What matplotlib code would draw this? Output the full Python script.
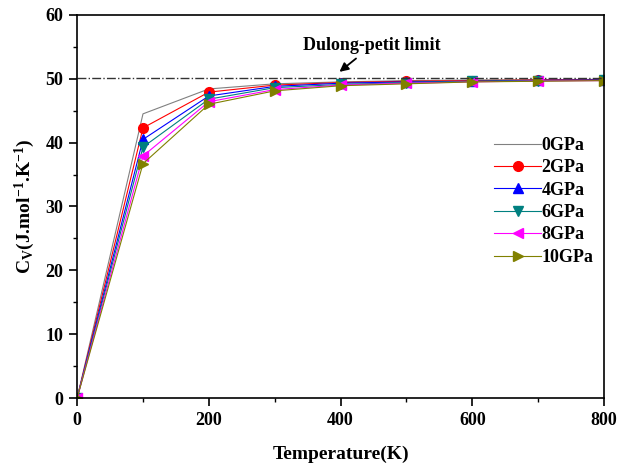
import matplotlib.pyplot as plt

plt.rcParams['font.family'] = ['Liberation Serif', 'DejaVu Serif']
plt.rcParams['font.weight'] = 'bold'
plt.rcParams['mathtext.fontset'] = 'custom'
plt.rcParams['mathtext.rm'] = 'Liberation Serif:bold'
plt.rcParams['mathtext.it'] = 'Liberation Serif:bold'
plt.rcParams['mathtext.bf'] = 'Liberation Serif:bold'

temps = [0, 100, 200, 300, 400, 500, 600, 700, 800]
cv_0 = [0, 44.5, 48.4, 49.2, 49.5, 49.7, 49.8, 49.85, 49.9]
cv_2 = [0, 42.3, 47.9, 49.0, 49.4, 49.6, 49.7, 49.8, 49.85]
cv_4 = [0, 40.5, 47.3, 48.8, 49.3, 49.5, 49.6, 49.75, 49.8]
cv_6 = [0, 39.3, 46.8, 48.6, 49.1, 49.4, 49.6, 49.7, 49.75]
cv_8 = [0, 37.9, 46.4, 48.3, 49.0, 49.3, 49.5, 49.65, 49.7]
cv_10 = [0, 36.7, 46.0, 48.1, 48.9, 49.2, 49.5, 49.6, 49.7]
labels = ['0GPa', '2GPa', '4GPa', '6GPa', '8GPa', '10GPa']
dulong_petit = 50.1

fig = plt.figure(figsize=(6.17, 4.63), dpi=100)
ax = fig.add_axes([0.125, 0.14, 0.854, 0.828])

ax.plot(temps, cv_0, color='gray', lw=0.8, label=labels[0])
ax.plot(temps, cv_2, color='red', lw=0.8, marker='o', ms=7, label=labels[1])
ax.plot(temps, cv_4, color='blue', lw=0.8, marker='^', ms=7, label=labels[2])
ax.plot(temps, cv_6, color='#008080', lw=0.8, marker='v', ms=7, label=labels[3])
ax.plot(temps, cv_8, color='magenta', lw=0.8, marker='<', ms=7, label=labels[4])
ax.plot(temps, cv_10, color='#808000', lw=0.8, marker='>', ms=7, label=labels[5])

ax.axhline(dulong_petit, color='#333333', lw=1.0, linestyle='-.')
ax.annotate('Dulong-petit limit', xy=(395, 50.8), xytext=(448, 55.2),
            ha='center', va='center', fontsize=13, fontweight='bold',
            arrowprops=dict(arrowstyle='-|>', color='black', lw=1.3))

ax.set_xlim(0, 800)
ax.set_ylim(0, 60)
ax.set_xticks([0, 200, 400, 600, 800])
ax.set_xticks([100, 300, 500, 700], minor=True)
ax.set_yticks([0, 10, 20, 30, 40, 50, 60])
ax.set_yticks([5, 15, 25, 35, 45, 55], minor=True)
ax.tick_params(which='major', direction='out', length=6, width=1.2, labelsize=13, pad=4)
ax.tick_params(which='minor', direction='out', length=3, width=1.0)
for s in ax.spines.values():
    s.set_linewidth(1.2)

ax.set_xlabel('Temperature(K)', fontsize=14, fontweight='bold', labelpad=12)
ax.set_ylabel(r'C$_\mathrm{V}$(J.mol$^{\mathrm{-1}}$.K$^{\mathrm{-1}}$)',
              fontsize=14, fontweight='bold', labelpad=6)

ax.legend(loc='upper right', bbox_to_anchor=(1.0, 0.71), frameon=False,
          fontsize=13, handlelength=2.6, handletextpad=0.0, labelspacing=0.3,
          borderaxespad=0.2)

fig.savefig('out.png', dpi=100)
